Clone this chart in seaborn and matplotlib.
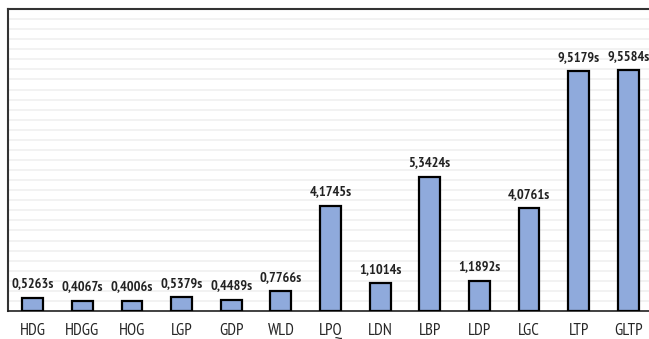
import matplotlib
matplotlib.use("Agg")
import matplotlib.pyplot as plt
import seaborn as sns
import pandas as pd
import numpy as np

categories = ["HDG", "HDGG", "HOG", "LGP", "GDP", "WLD", "LPQ", "LDN", "LBP", "LDP", "LGC", "LTP", "GLTP"]
times = [0.5263, 0.4067, 0.4006, 0.5379, 0.4489, 0.7766, 4.1745, 1.1014, 5.3424, 1.1892, 4.0761, 9.5179, 9.5584]
labels = ["0,5263s", "0,4067s", "0,4006s", "0,5379s", "0,4489s", "0,7766s", "4,1745s",
          "1,1014s", "5,3424s", "1,1892s", "4,0761s", "9,5179s", "9,5584s"]

sns.set_style("white")
plt.rcParams['font.family'] = ['PT Sans Narrow', 'DejaVu Sans']

df = pd.DataFrame({"cat": categories, "t": times})

fig = plt.figure(figsize=(6.49, 3.39), dpi=100)
W, H = 649, 339
ax = fig.add_axes([8 / W, (H - 311) / H, (653 - 8) / W, (311 - 9) / H])

sns.barplot(data=df, x="cat", y="t", ax=ax, color="#8FAADC", saturation=1,
            width=0.42, edgecolor="black", linewidth=1.6, zorder=3)

ax.set_ylim(0, 12)
ax.set_xlim(-0.5, 12.5)
ax.set_yticks(np.arange(0, 12.01, 0.4))
ax.yaxis.grid(True, color="#EFEFEF", linewidth=1.1)
ax.set_axisbelow(True)
ax.tick_params(axis="y", left=False, labelleft=False)
ax.tick_params(axis="x", bottom=False, pad=5, labelsize=12, labelcolor="#262626")
ax.set_xlabel("")
ax.set_ylabel("")

for s in ["top", "left"]:
    ax.spines[s].set_color("#333333")
    ax.spines[s].set_linewidth(1.5)
ax.spines["bottom"].set_color("#222222")
ax.spines["bottom"].set_linewidth(1.2)
ax.spines["right"].set_visible(False)

for i, (v, lab) in enumerate(zip(times, labels)):
    ax.annotate(lab, (i, v), xytext=(0, 5.5), textcoords="offset points",
                ha="center", va="bottom", fontsize=10.3, fontweight="bold", color="#222222")

fig.savefig("out.png", dpi=100)
